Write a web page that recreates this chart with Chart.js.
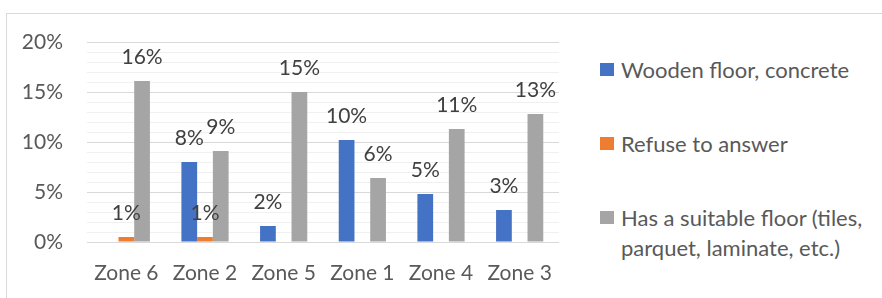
<!DOCTYPE html>
<html>
<head>
<meta charset="utf-8">
<script src="https://cdn.jsdelivr.net/npm/chart.js@4"></script>
<style>
  body { margin: 0; background: #fff; font-family: Lato, "Open Sans", sans-serif; }
  #wrap { position: relative; width: 882px; height: 298px; overflow: hidden; }
  #frame { position: absolute; left: 6px; top: 13px; width: 900px; height: 300px; border: 1px solid #d9d9d9; box-sizing: border-box; }
  #cv { position: absolute; left: 0; top: 0; }
  .lg { position: absolute; left: 600px; font-size: 22px; color: #595959; line-height: 30px; }
  .lg i { position: absolute; left: 0; top: 8px; width: 14px; height: 13px; }
  .lg span { display: block; margin-left: 21px; width: 260px; }
</style>
</head>
<body>
<div id="wrap">
  <div id="frame"></div>
  <canvas id="cv" width="570" height="298"></canvas>
  <div id="legend"></div>
</div>
<script>
var zonas = ['Zone 6', 'Zone 2', 'Zone 5', 'Zone 1', 'Zone 4', 'Zone 3'];
var madeira = [null, 8.0, 1.6, 10.2, 4.8, 3.2];
var recusa = [0.5, 0.5, null, null, null, null];
var adequado = [16.1, 9.1, 15.0, 6.4, 11.3, 12.8];
var nomes = ['Wooden floor, concrete', 'Refuse to answer', 'Has a suitable floor (tiles, parquet, laminate, etc.)'];
var cores = ['#4472C4', '#ED7D31', '#A5A5A5'];
var ticksY = [0, 5, 10, 15, 20];

// legenda em html (texto quebra em duas linhas)
var tops = [55, 129, 203];
var leg = document.getElementById('legend');
nomes.forEach(function (n, i) {
  leg.innerHTML += '<div class="lg" style="top:' + tops[i] + 'px"><i style="background:' + cores[i] + '"></i><span>' + n + '</span></div>';
});

var rotulos = {
  id: 'rotulos',
  afterDatasetsDraw: function (chart) {
    var ctx = chart.ctx;
    ctx.save();
    ctx.font = '21px Lato';
    ctx.fillStyle = '#404040';
    ctx.textAlign = 'center';
    ctx.textBaseline = 'middle';
    chart.data.datasets.forEach(function (ds, i) {
      chart.getDatasetMeta(i).data.forEach(function (bar, j) {
        var v = ds.data[j];
        if (v == null) return;
        ctx.fillText(Math.round(v) + '%', bar.x, bar.y - 24);
      });
    });
    ctx.restore();
  }
};

var ctx = document.getElementById('cv').getContext('2d');
var grafico = new Chart(ctx, {
  type: 'bar',
  data: {
    labels: zonas,
    datasets: [
      { label: nomes[0], data: madeira, backgroundColor: cores[0] },
      { label: nomes[1], data: recusa, backgroundColor: cores[1] },
      { label: nomes[2], data: adequado, backgroundColor: cores[2] }
    ]
  },
  options: {
    responsive: false,
    animation: false,
    layout: { padding: { top: 42, left: 0, right: 11, bottom: 0 } },
    datasets: { bar: { categoryPercentage: 0.6, barPercentage: 1.0 } },
    plugins: { legend: { display: false }, tooltip: { enabled: false } },
    scales: {
      x: {
        grid: { display: false },
        border: { display: false },
        ticks: { color: '#595959', font: { family: 'Lato', size: 21 }, padding: 11, maxRotation: 0 },
        afterFit: function (s) { s.height = 56; }
      },
      y: {
        min: 0, max: 20,
        border: { display: false },
        grid: {
          drawTicks: false,
          color: function (c) { return ticksY.indexOf(c.tick.value) >= 0 ? '#d9d9d9' : '#f0f0f0'; },
          lineWidth: 1
        },
        ticks: {
          stepSize: 1,
          autoSkip: false,
          padding: 24,
          color: '#595959',
          font: { family: 'Lato', size: 21 },
          callback: function (v) { return ticksY.indexOf(v) >= 0 ? v + '%' : ''; }
        },
        afterFit: function (s) { s.width = 87; }
      }
    }
  },
  plugins: [rotulos]
});
</script>
</body>
</html>
